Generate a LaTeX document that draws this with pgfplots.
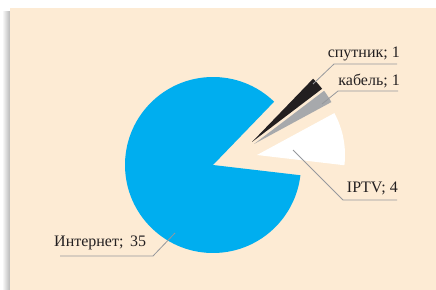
\documentclass[border=0pt]{standalone}
\usepackage{pgfplots}
\pgfplotsset{compat=1.18}
\usepackage{pgfplotstable}
\usepackage{fontspec}
\setmainfont{Liberation Serif}
\definecolor{peach}{RGB}{253,235,212}
\definecolor{pieblue}{RGB}{0,174,239}
\definecolor{piegray}{RGB}{167,169,172}
\definecolor{pieblack}{RGB}{35,31,32}
\definecolor{leader}{RGB}{150,152,156}
\definecolor{txt}{RGB}{35,31,32}

% value, explode offsets (px) of each slice
\pgfplotstableread{
name value dx dy
Internet 35 0 0
IPTV 4 44 10
cable 1 41 21
sat 1 39 23
}\piedata
\pgfplotstablegetelem{0}{value}\of\piedata \edef\vA{\pgfplotsretval}
\pgfplotstablegetelem{1}{value}\of\piedata \edef\vB{\pgfplotsretval}
\pgfplotstablegetelem{2}{value}\of\piedata \edef\vC{\pgfplotsretval}
\pgfplotstablegetelem{3}{value}\of\piedata \edef\vD{\pgfplotsretval}
\pgfplotstablegetelem{1}{dx}\of\piedata \edef\dxB{\pgfplotsretval}
\pgfplotstablegetelem{1}{dy}\of\piedata \edef\dyB{\pgfplotsretval}
\pgfplotstablegetelem{2}{dx}\of\piedata \edef\dxC{\pgfplotsretval}
\pgfplotstablegetelem{2}{dy}\of\piedata \edef\dyC{\pgfplotsretval}
\pgfplotstablegetelem{3}{dx}\of\piedata \edef\dxD{\pgfplotsretval}
\pgfplotstablegetelem{3}{dy}\of\piedata \edef\dyD{\pgfplotsretval}
\pgfmathsetmacro{\tot}{\vA+\vB+\vC+\vD}
\pgfmathsetmacro{\aA}{46}
\pgfmathsetmacro{\aB}{\aA+360*\vA/\tot}
\pgfmathsetmacro{\aC}{\aB+360*\vB/\tot}
\pgfmathsetmacro{\aD}{\aC+360*\vC/\tot}
\pgfmathsetmacro{\aE}{\aD+360*\vD/\tot}
\def\cx{213}\def\cy{-165}\def\R{88bp}

\begin{document}
\begin{tikzpicture}
\begin{axis}[
  name=ax,
  scale only axis, width=436bp, height=290bp,
  xmin=0, xmax=436, ymin=-290, ymax=0,
  hide axis, clip=false,
  xtick=\empty, ytick=\empty,
]
\addplot[draw=none] coordinates {(0,0)};
% background
\fill[white] (axis cs:0,0) rectangle (axis cs:436,-290);
\shade[left color=white, right color=black!28] (axis cs:2,-12) rectangle (axis cs:10,-290);
\fill[peach] (axis cs:10,-8) rectangle (axis cs:436,-290);
% slices
\fill[pieblue] (axis cs:\cx,\cy) -- ++(\aA:\R) arc[start angle=\aA, end angle=\aB, radius=\R] -- cycle;
\fill[white] (axis cs:\cx+\dxB,\cy+\dyB) -- ++(\aB:\R) arc[start angle=\aB, end angle=\aC, radius=\R] -- cycle;
\fill[piegray] (axis cs:\cx+\dxC,\cy+\dyC) -- ++(\aC:\R) arc[start angle=\aC, end angle=\aD, radius=\R] -- cycle;
\fill[pieblack] (axis cs:\cx+\dxD,\cy+\dyD) -- ++(\aD:\R) arc[start angle=\aD, end angle=\aE, radius=\R] -- cycle;
% leaders
\draw[leader, line width=0.8bp] (axis cs:397,-64) -- (axis cs:334,-64) -- (axis cs:313,-84);
\draw[leader, line width=0.8bp] (axis cs:398,-91) -- (axis cs:338,-91) -- (axis cs:322,-104);
\draw[leader, line width=0.8bp] (axis cs:397,-200) -- (axis cs:343,-200) -- (axis cs:293,-150);
\draw[leader, line width=0.8bp] (axis cs:60,-256) -- (axis cs:153,-256) -- (axis cs:175,-233);
% labels
\begin{scope}[every node/.style={inner sep=0pt, text=txt, font=\fontsize{16bp}{18bp}\selectfont}]
\node[anchor=base east] at (axis cs:400,-57) {спутник; 1};
\node[anchor=base east] at (axis cs:400,-85) {кабель; 1};
\node[anchor=base east] at (axis cs:398,-192) {IPTV; 4};
\node[anchor=base west] at (axis cs:54,-246) {Интернет;\, 35};
\end{scope}
\end{axis}
\pgfresetboundingbox
\path[use as bounding box] (ax.south west) rectangle (ax.north east);
\end{tikzpicture}
\end{document}
